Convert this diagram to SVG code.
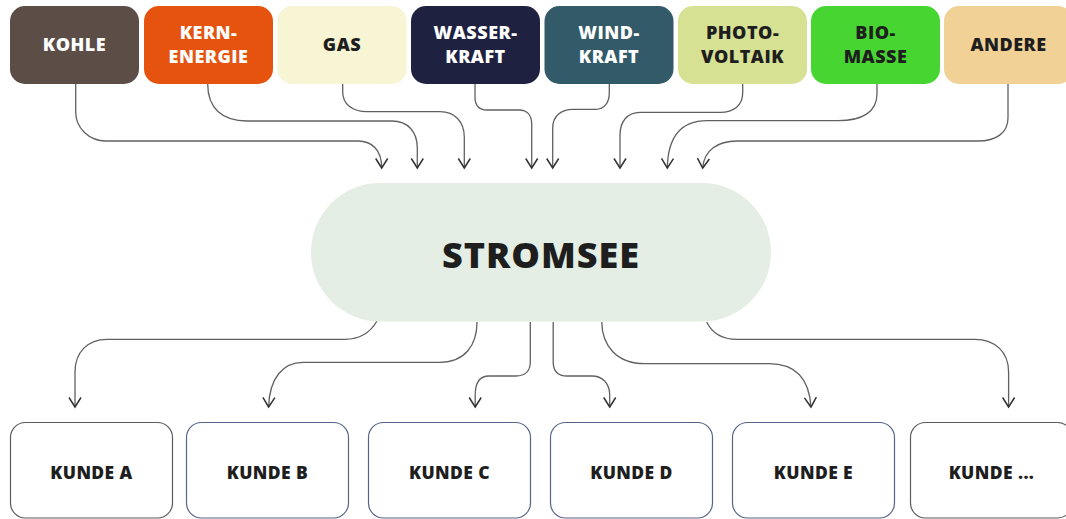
<svg xmlns="http://www.w3.org/2000/svg" width="1066" height="519" viewBox="0 0 1066 519">
<defs>
<style>
.src text, .hub text, .cust text { font-family: "Open Sans", "Liberation Sans", sans-serif; font-weight: 800; text-anchor: middle; }
.src text { font-size: 18px; letter-spacing: 0.5px; }
.lt { fill: #ffffff; }
.dk { fill: #1e1e1e; }
.hub text { font-size: 36px; letter-spacing: 1px; fill: #1e1e1e; }
.cust rect { fill: #ffffff; stroke-width: 1.2; }
.cust text { font-size: 17.5px; letter-spacing: 0.4px; fill: #1e1e1e; }
.gr { stroke: #5a5a5a; }
.bl { stroke: #56648a; }
#connectors path { fill: none; stroke: #606060; stroke-width: 1.3; marker-end: url(#arr); }
</style>
<marker id="arr" viewBox="-12 -8 14 16" refX="0" refY="0" markerWidth="14" markerHeight="16" markerUnits="userSpaceOnUse" orient="auto">
<path d="M-9.5,-6 L0,0 L-9.5,6" fill="none" stroke="#333" stroke-width="1.5"/>
</marker>
</defs>
<rect width="1066" height="519" fill="#ffffff"/>

<g id="connectors">
<path d="M75.7,84 V112 C75.7,128 89,141 106,141 H358 C372,141 381.7,150 381.7,168"/>
<path d="M207.7,84 C207.7,108 222,121 247,121 H392 C408,121 417.3,132 417.3,148 V168"/>
<path d="M342.7,84 V92 C342.7,104 352,111.7 367,111.7 H440 C455,111.7 464.3,122 464.3,137 V168"/>
<path d="M475,84 V97 C475,105 479,110 487,110 H519 C527,110 531.7,115 531.7,124 V168"/>
<path d="M609.3,84 V93 C609.3,103 604,109.3 596,109.3 H573 C561,109.3 552.7,116 552.7,128 V168"/>
<path d="M742.7,84 V93 C742.7,105 734,112.3 720,112.3 H640 C627,112.3 620,122 620,135 V168"/>
<path d="M877,84 V94 C877,112 862,120.7 838,120.7 H707 C684,120.7 668,133 667.3,168"/>
<path d="M1008,84 V118 C1008,133 996,141 978,141 H737 C718,141 704,150 702.7,168"/>

<path d="M377,321 C370,333 360,339.3 345,339.3 H107 C88,339.3 75,352 75,372 V407"/>
<path d="M477,322 C477,345 465,362.3 440,362.3 H303 C283,362.3 269.5,378 268.6,407"/>
<path d="M530.3,322 V362 C530.3,371 525,376 516,376 H489 C480,376 475.2,383 475.2,395 V407"/>
<path d="M553.2,322 V362 C553.2,371 558,376 567,376 H592 C602,376 609.7,383 609.7,395 V407"/>
<path d="M601.8,322 C602,345 616,363.7 645,363.7 H769 C793,363.7 809,376 811,407"/>
<path d="M706.7,322 C712,333 722,339.3 737,339.3 H975 C995,339.3 1008.6,352 1008.6,372 V407"/>
</g>

<g id="kohle" class="src"><rect x="10" y="6" width="129" height="78" rx="15" fill="#5c4d47"/><text class="lt" x="74.5" y="50.5">KOHLE</text></g>
<g id="kernenergie" class="src"><rect x="144" y="6" width="129" height="78" rx="15" fill="#e5530f"/><text class="lt" x="208.5" y="39.3">KERN-</text><text class="lt" x="208.5" y="62.5">ENERGIE</text></g>
<g id="gas" class="src"><rect x="277.5" y="6" width="129" height="78" rx="15" fill="#f7f5d3"/><text class="dk" x="342" y="50.5">GAS</text></g>
<g id="wasserkraft" class="src"><rect x="411" y="6" width="129" height="78" rx="15" fill="#1e2140"/><text class="lt" x="475.5" y="39.3">WASSER-</text><text class="lt" x="475.5" y="62.5">KRAFT</text></g>
<g id="windkraft" class="src"><rect x="544.5" y="6" width="129" height="78" rx="15" fill="#325a68"/><text class="lt" x="609" y="39.3">WIND-</text><text class="lt" x="609" y="62.5">KRAFT</text></g>
<g id="photovoltaik" class="src"><rect x="678" y="6" width="129" height="78" rx="15" fill="#d6e194"/><text class="dk" x="742.5" y="39.3">PHOTO-</text><text class="dk" x="742.5" y="62.5">VOLTAIK</text></g>
<g id="biomasse" class="src"><rect x="811" y="6" width="129" height="78" rx="15" fill="#47d631"/><text class="dk" x="875.5" y="39.3">BIO-</text><text class="dk" x="875.5" y="62.5">MASSE</text></g>
<g id="andere" class="src"><rect x="944" y="6" width="129" height="78" rx="15" fill="#f1d196"/><text class="dk" x="1008.5" y="50.5">ANDERE</text></g>

<g id="stromsee" class="hub"><rect x="311" y="183" width="460" height="138.5" rx="69" fill="#e4eee4"/><text x="541" y="267.7">STROMSEE</text></g>

<g id="kunde-a" class="cust"><rect class="gr" x="10.5" y="422.5" width="162" height="95.5" rx="15"/><text x="91.5" y="479.3">KUNDE A</text></g>
<g id="kunde-b" class="cust"><rect class="bl" x="186.5" y="422.5" width="162" height="95.5" rx="15"/><text x="267.5" y="479.3">KUNDE B</text></g>
<g id="kunde-c" class="cust"><rect class="bl" x="368.5" y="422.5" width="162" height="95.5" rx="15"/><text x="449.5" y="479.3">KUNDE C</text></g>
<g id="kunde-d" class="cust"><rect class="bl" x="550.5" y="422.5" width="162" height="95.5" rx="15"/><text x="631.5" y="479.3">KUNDE D</text></g>
<g id="kunde-e" class="cust"><rect class="bl" x="732.5" y="422.5" width="162" height="95.5" rx="15"/><text x="813.5" y="479.3">KUNDE E</text></g>
<g id="kunde-more" class="cust"><rect class="gr" x="910.5" y="422.5" width="162" height="95.5" rx="15"/><text x="991.5" y="479.3">KUNDE ...</text></g>
</svg>
